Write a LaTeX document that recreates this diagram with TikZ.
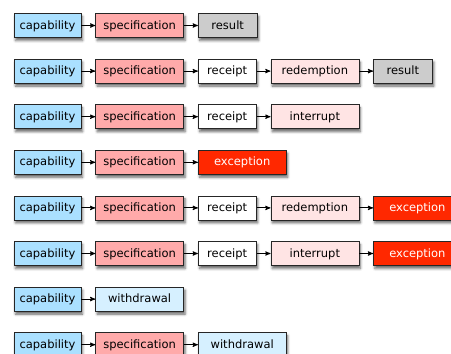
\documentclass[tikz,border=0pt]{standalone}
\usepackage{fontspec}
\setmainfont{DejaVu Sans}
\usetikzlibrary{arrows,positioning,shadows.blur}

\definecolor{capblue}{RGB}{170,224,255}
\definecolor{specpink}{RGB}{255,170,170}
\definecolor{resgray}{RGB}{204,204,204}
\definecolor{palepink}{RGB}{255,228,228}
\definecolor{excred}{RGB}{255,40,0}
\definecolor{wdblue}{RGB}{214,240,255}

\begin{document}
\begin{tikzpicture}[x=1pt, y=1pt, ->, >=stealth', line width=0.9pt, node distance=14pt]
\tikzstyle{box}=[draw=black!85, line width=0.6pt, minimum height=24pt, inner sep=0pt,
  text height=9.6pt, text depth=2.6pt, font=\fontsize{11.5}{13}\selectfont,
  blur shadow={shadow xshift=1.5pt, shadow yshift=-3pt, shadow blur radius=2.5pt, shadow opacity=60}]
\tikzstyle{capbox}=[box, fill=capblue, minimum width=67pt]
\tikzstyle{specbox}=[box, fill=specpink, minimum width=88pt]
\tikzstyle{resbox}=[box, fill=resgray, minimum width=59pt]
\tikzstyle{rcptbox}=[box, fill=white, minimum width=58pt]
\tikzstyle{redmbox}=[box, fill=palepink, minimum width=88pt]
\tikzstyle{excbox}=[box, fill=excred, text=white, minimum width=88pt]
\tikzstyle{wdbox}=[box, fill=wdblue, minimum width=88pt]

\useasboundingbox (0,0) rectangle (451,-354);

% first column
\node[capbox] (c1) at (47.5,-25.5) {capability};
\node[capbox] (c2) [below=21pt of c1] {capability};
\node[capbox] (c3) [below=21pt of c2] {capability};
\node[capbox] (c4) [below=21pt of c3] {capability};
\node[capbox] (c5) [below=21pt of c4] {capability};
\node[capbox] (c6) [below=21pt of c5] {capability};
\node[capbox] (c7) [below=21pt of c6] {capability};
\node[capbox] (c8) [below=21pt of c7] {capability};

% rest of each row
\node[specbox] (s1) [right=of c1] {specification};
\node[resbox]  (r1) [right=of s1] {result};

\node[specbox] (s2) [right=of c2] {specification};
\node[rcptbox] (p2) [right=of s2] {receipt};
\node[redmbox] (d2) [right=of p2] {redemption};
\node[resbox]  (r2) [right=of d2] {result};

\node[specbox] (s3) [right=of c3] {specification};
\node[rcptbox] (p3) [right=of s3] {receipt};
\node[redmbox] (i3) [right=of p3] {interrupt};

\node[specbox] (s4) [right=of c4] {specification};
\node[excbox]  (e4) [right=of s4] {exception};

\node[specbox] (s5) [right=of c5] {specification};
\node[rcptbox] (p5) [right=of s5] {receipt};
\node[redmbox] (d5) [right=of p5] {redemption};
\node[excbox]  (e5) [right=of d5] {exception};

\node[specbox] (s6) [right=of c6] {specification};
\node[rcptbox] (p6) [right=of s6] {receipt};
\node[redmbox] (i6) [right=of p6] {interrupt};
\node[excbox]  (e6) [right=of i6] {exception};

\node[wdbox] (w7) [right=of c7] {withdrawal};

\node[specbox] (s8) [right=of c8] {specification};
\node[wdbox]   (w8) [right=of s8] {withdrawal};

\path
(c1) edge (s1) (s1) edge (r1)
(c2) edge (s2) (s2) edge (p2) (p2) edge (d2) (d2) edge (r2)
(c3) edge (s3) (s3) edge (p3) (p3) edge (i3)
(c4) edge (s4) (s4) edge (e4)
(c5) edge (s5) (s5) edge (p5) (p5) edge (d5) (d5) edge (e5)
(c6) edge (s6) (s6) edge (p6) (p6) edge (i6) (i6) edge (e6)
(c7) edge (w7)
(c8) edge (s8) (s8) edge (w8);
\end{tikzpicture}
\end{document}
